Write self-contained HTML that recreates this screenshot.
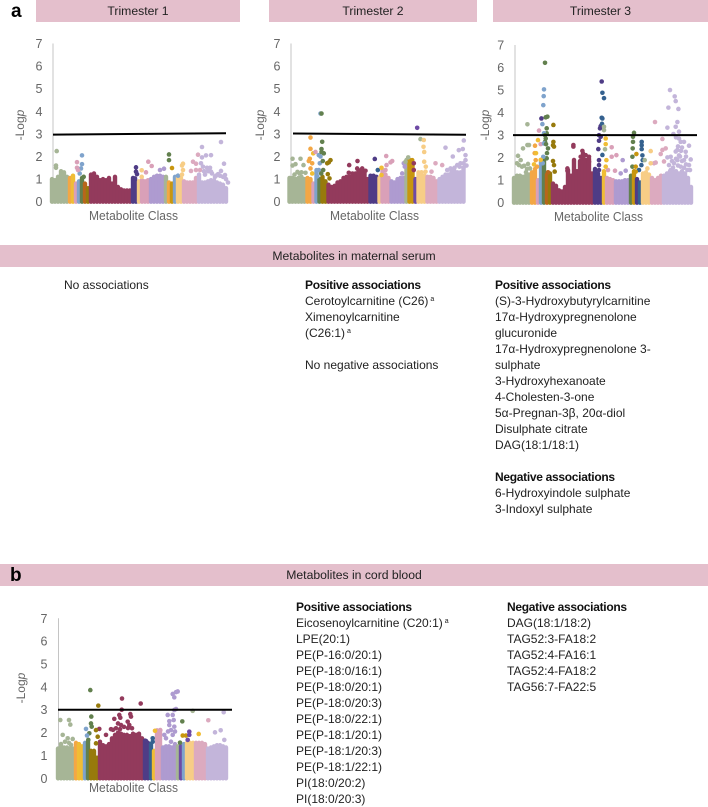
<!DOCTYPE html>
<html lang="en"><head><meta charset="utf-8"><title>Metabolite Manhattan plots</title>
<style>
html,body{margin:0;padding:0;background:#fff}
#page{position:relative;width:708px;height:807px;overflow:hidden;font-family:"Liberation Sans",sans-serif;color:#1a1a1a}
.bar{position:absolute;background:#e4bfcc;text-align:center;font-size:12.2px;line-height:22px;color:#222}
.t{position:absolute;font-size:12px;line-height:16px;white-space:nowrap;color:#222}
.t b{color:#111;letter-spacing:-.3px}
.t sup{font-size:7px;line-height:0;vertical-align:4px;margin-left:2px}
.big{position:absolute;font-weight:bold;font-size:19px;line-height:20px;color:#000}
svg{position:absolute;left:0;top:0}
</style></head><body>
<div id="page">
<div class="bar" style="left:36px;top:0;width:204px;height:22px">Trimester 1</div>
<div class="bar" style="left:269px;top:0;width:208px;height:22px">Trimester 2</div>
<div class="bar" style="left:493px;top:0;width:215px;height:22px">Trimester 3</div>
<div class="bar" style="left:0;top:245px;width:708px;height:22px">Metabolites in maternal serum</div>
<div class="bar" style="left:0;top:564px;width:708px;height:22px">Metabolites in cord blood</div>
<div class="big" style="left:11px;top:2px">a</div>
<div class="big" style="left:10px;top:566px">b</div>
<svg id="chart" width="708" height="807"></svg>

<div class="t" style="left:64px;top:277px">No associations</div>
<div class="t" style="left:305px;top:277px"><b>Positive associations</b><br>Cerotoylcarnitine (C26)<sup>a</sup><br>Ximenoylcarnitine<br>(C26:1)<sup>a</sup><br><br>No negative associations</div>
<div class="t" style="left:495px;top:277px"><b>Positive associations</b><br>(S)-3-Hydroxybutyrylcarnitine<br>17α-Hydroxypregnenolone<br>glucuronide<br>17α-Hydroxypregnenolone 3-<br>sulphate<br>3-Hydroxyhexanoate<br>4-Cholesten-3-one<br>5α-Pregnan-3β, 20α-diol<br>Disulphate citrate<br>DAG(18:1/18:1)<br><br><b>Negative associations</b><br>6-Hydroxyindole sulphate<br>3-Indoxyl sulphate</div>
<div class="t" style="left:296px;top:599px"><b>Positive associations</b><br>Eicosenoylcarnitine (C20:1)<sup>a</sup><br>LPE(20:1)<br>PE(P-16:0/20:1)<br>PE(P-18:0/16:1)<br>PE(P-18:0/20:1)<br>PE(P-18:0/20:3)<br>PE(P-18:0/22:1)<br>PE(P-18:1/20:1)<br>PE(P-18:1/20:3)<br>PE(P-18:1/22:1)<br>PI(18:0/20:2)<br>PI(18:0/20:3)</div>
<div class="t" style="left:507px;top:599px"><b>Negative associations</b><br>DAG(18:1/18:2)<br>TAG52:3-FA18:2<br>TAG52:4-FA16:1<br>TAG52:4-FA18:2<br>TAG56:7-FA22:5</div>
</div>
<script>
const yTicks = [0,1,2,3,4,5,6,7];
const threshold = 3;
const classColors = ['#a6b596','#f3a745','#f0bd35','#d9a0b8','#7fa3cc','#62804e','#b8651b','#977a0c','#933a5c','#4f3c86','#35618f','#f7cd86','#dcaabf','#ae9bd0','#c3b5da','#c8960f','#6e4aa5'];

const t1ClassOrder = [0,1,2,3,4,5,6,7,8,9,11,3,13,0,1,15,4,11,12,14];
const t1ClassBins = [6,1,1,1,1,1,1,1,14,2,1,3,5,1,1,1,1,2,5,10];
const t1Heights = [1.0,.95,1.1,1.35,1.3,1.1,1.05,1.15,.8,.9,1.05,.8,.6,1.2,1.25,1.1,.95,1.0,.95,1.05,.8,1.1,.65,.55,.5,.5,.5,1.05,.9,.9,.95,.9,.95,1.0,1.1,1.15,1.15,1.1,1.1,.85,.8,1.1,1.1,1.05,.9,.85,.85,.85,1.05,1.2,.85,.85,.9,.95,.95,.85,.8,.75,.6];
const t1Points = [[0,4.7,2.24],[0,4,1.6],[0,4,1.5],[4,30,2.05],[4,30,1.66],[4,29,1.47],[4,27.7,1.25],[3,25,1.75],[3,25,1.5],[3,26,1.4],[5,31.7,1.1],[9,84,1.52],[9,84,1.33],[9,85,1.22],[9,83,1.03],[11,89.7,1.39],[11,89.7,1.1],[3,94,1.3],[3,96.3,1.77],[3,99.7,1.58],[13,108,1.4],[13,112,1.46],[13,104,1.0],[5,117,2.09],[5,117,1.84],[15,120,1.49],[4,126,1.15],[11,131,1.68],[11,130,1.6],[11,131,1.4],[11,130,1.2],[12,139,1.36],[12,141,1.77],[12,144,1.68],[12,146,2.08],[12,144,1.4],[12,148,1.4],[14,150,2.42],[14,150,1.96],[14,154,2.05],[14,159,2.06],[14,169,2.64],[14,172,1.68],[14,169,1.36],[14,149,1.7],[14,151,1.55],[14,157,1.43],[14,156,1.35],[14,158,1.35],[14,159,1.33],[14,166,1.22],[14,173,1.18],[14,153,1.2],[14,163,1.1],[14,155,1.5],[14,158,1.5],[14,160,1.25],[14,168,1.15],[14,171,1.1],[14,152,1.35],[14,164,1.15],[14,174,1.0],[14,176,.85]];

const t2ClassOrder = [0,1,3,4,5,7,8,9,11,3,13,0,15,16,11,12,14];
const t2ClassBins = [6,2,1,1,1,2,14,3,1,3,5,1,2,1,3,4,9];
const t2Heights = [1.05,1.05,1.0,1.05,1.1,1.0,1.05,1.0,.8,1.4,1.0,1.1,.9,.75,.65,.7,.85,.9,1.05,1.1,1.1,1.25,1.25,1.4,1.35,1.25,1.0,1.15,1.15,1.1,1.05,1.4,1.2,1.05,.9,.85,1.0,1.05,1.05,1.85,1.85,1.7,1.0,1.3,1.2,1.15,1.1,1.1,1.05,.9,1.0,1.1,1.2,1.2,1.35,1.35,1.3,1.3,1.5];
const t2Points = [[4,31,3.9],[5,32,3.9],[16,127.7,3.27],[0,131,2.77],[11,134.3,2.73],[11,134,2.43],[11,134.7,2.2],[11,134.7,1.77],[11,136.3,1.55],[11,136,1.33],[11,132,1.3],[1,21,2.84],[1,21,2.34],[1,20.3,1.9],[1,19.3,1.8],[1,22.7,1.7],[1,21,1.47],[2,22.7,1.25],[2,23.7,2.14],[3,26,2.2],[4,29.3,2.06],[4,31,2],[4,30.3,1.7],[4,29.3,1.4],[4,27.7,1.12],[5,32.7,2.65],[5,32,2.33],[5,32,2.2],[5,34.3,2.14],[5,33.3,1.8],[5,33.7,1.4],[5,31.7,1.25],[7,41,1.84],[7,39.3,1.74],[7,37.7,1.7],[7,38.3,1.22],[7,40,1.03],[8,59.7,1.62],[8,68,1.8],[8,59.3,1.28],[8,67.7,1.47],[8,72.7,1.47],[8,76,1.37],[9,85.3,1.89],[10,88.3,1.4],[2,92,1.5],[2,92,1.18],[3,96.7,2.02],[3,102.7,1.8],[3,101,1.74],[3,97,1.62],[3,96,1.4],[13,112.7,1.25],[13,114.3,1.7],[13,115.3,1.55],[0,118.7,1.96],[0,116,1.77],[15,122.7,1.84],[8,124.3,1.7],[8,124.3,1.4],[12,146,1.7],[12,152.7,1.62],[12,142,1.33],[14,156,2.39],[14,163.3,2],[14,169.3,2.28],[14,174.3,2.71],[14,173.3,2.33],[14,176,2.06],[14,176,1.84],[14,171,1.7],[14,167.7,1.62],[14,161,1.47],[14,157.7,1.4],[0,3,1.6],[0,6,1.66],[0,11,1.9],[0,3,1.9],[0,14,1.62],[0,12,1.3],[0,5,1.2],[0,10,1.25],[14,165,1.5],[14,170,1.55],[14,174,1.7],[14,177,1.6],[14,163,1.4],[14,174,1.5],[0,8,1.32],[0,16,1.28]];

const t3ClassOrder = [0,1,3,4,5,6,7,8,9,2,3,13,5,15,9,10,11,12,14];
const t3ClassBins = [6,2,1,1,1,1,1,14,3,1,3,5,1,1,1,1,3,4,10];
const t3Heights = [1.1,1.2,1.2,1.15,1.2,1.25,1.35,1.5,1.0,1.9,2.0,1.25,1.3,.85,.75,.55,.5,.7,1.45,1.2,1.9,1.4,1.85,2.2,1.9,1.95,1.3,1.5,1.3,1.1,1.4,1.1,1.05,1.0,.95,.95,.95,1.0,1.0,1.2,1.4,1.05,.9,1.3,1.35,1.25,1.1,1.0,1.1,1.2,1.2,1.3,1.4,1.4,1.4,1.3,1.4,1.3,1.1,.7];
const t3Points = [[0,13.4,3.48],[0,4,2.08],[0,9,2.41],[0,13.4,2.56],[0,15,2.56],[0,6.7,1.89],[0,5,1.67],[0,10,1.64],[0,14,1.72],[0,16,1.52],[5,31,6.21],[4,30,5.03],[4,29.7,4.73],[4,29.3,4.33],[9,87.7,5.38],[10,88.4,4.88],[10,90,4.64],[10,87.7,3.77],[10,88.4,3.74],[9,86.7,3.4],[10,88,3.5],[9,86,3.3],[9,85,3.0],[9,86.7,2.93],[9,85,2.75],[9,84.3,2.38],[10,88.4,2.12],[9,85,1.89],[9,85,1.67],[9,85,1.45],[14,156,5],[14,160.7,4.72],[14,161.7,4.51],[14,154.4,4.22],[14,164.4,4.16],[14,163.4,3.58],[14,153.4,3.33],[14,161.7,3.37],[14,165,3.15],[14,159.4,3.05],[14,165,2.85],[14,166.7,2.7],[14,170,2.7],[14,163.4,2.34],[14,161.7,2.27],[14,175,2.53],[14,171.7,2.26],[14,176.7,1.92],[14,170,1.89],[14,163.4,1.89],[14,156.7,2.04],[14,153.4,2.01],[14,173.4,1.45],[14,175,1.67],[14,166.7,1.6],[14,160,1.75],[14,155,1.67],[14,156.7,1.45],[14,167,2.3],[14,165,2.1],[14,162,2.9],[14,164,2.5],[14,168,2.45],[14,166,2.05],[14,172,2.05],[14,168,1.85],[14,162,1.95],[14,158,1.85],[14,172,1.7],[14,164,1.65],[14,159,1.55],[14,170,1.55],[14,176,1.45],[12,141,3.58],[12,148.4,2.83],[12,151.7,2.41],[12,148.4,2.34],[12,146.7,2.16],[12,150,1.83],[12,140,1.75],[12,141.7,1.78],[11,136.7,2.29],[11,136.7,1.75],[11,133.4,1.52],[5,120,3.1],[5,119,2.93],[5,119,2.7],[5,118.7,2.41],[5,118.4,2.04],[5,118.4,1.6],[10,127.7,2.7],[10,127.7,2.55],[10,127.7,2.38],[10,128.4,2.1],[10,128.7,1.89],[10,127.4,1.67],[10,125,1.45],[15,122.4,2.16],[15,121.7,1.6],[15,121.7,1.38],[0,130.7,1.89],[3,97.7,2.46],[3,97.7,2.04],[3,102.4,2.11],[3,101,1.42],[3,94,1.45],[13,108.7,1.89],[13,111.7,1.42],[13,106.7,1.3],[2,91.7,2.85],[2,91.7,2.6],[0,90,3.37],[0,90,3.22],[0,91,2.37],[2,92.4,1.89],[2,91.7,1.6],[8,59.4,2.56],[8,59.4,2.49],[8,68.4,2.3],[8,66.7,2.04],[8,71.7,2.11],[8,75,2.04],[8,70,1.82],[8,75,1.82],[8,53.4,1.52],[8,53.4,1.42],[5,31.7,3.79],[5,33.4,3.82],[5,32.7,3.3],[5,32.7,3.08],[5,31.7,2.85],[5,31,2.7],[5,34,2.41],[5,32.7,1.97],[3,25,3.2],[9,27.4,3.74],[3,26.7,2.6],[4,28.4,3.49],[4,30,3.08],[4,30,2.63],[4,29.3,2.04],[4,28.7,1.75],[7,39.4,3.45],[7,39.4,2.7],[7,40,2.49],[7,39,1.85],[7,40,1.67],[7,40.7,1.38],[1,21,2.53],[1,20.7,2.2],[2,24,2.78],[1,21.7,1.89],[2,26.7,1.9],[6,34,1.35],[5,31,3.0],[5,32,2.6],[5,33,2.2],[7,39,2.55],[2,22,2.2],[2,20,1.7],[1,23,1.6],[0,3,1.75],[0,8,1.6],[0,13,1.5],[0,12,1.35]];

const bClassOrder = [0,1,2,4,5,7,8,9,10,2,3,13,0,16,4,11,12,14];
const bClassBins = [6,1,2,1,1,3,15,2,1,1,2,5,1,1,1,3,4,7];
const bHeights = [1.3,1.4,1.35,1.35,1.3,1.3,1.55,1.5,1.4,1.55,1.6,1.2,1.2,.9,1.6,1.45,1.4,1.5,1.75,1.9,2.0,1.95,1.9,1.9,1.85,1.95,1.9,1.95,1.75,1.65,1.55,1.5,1.2,2.1,2.1,1.35,1.4,1.4,1.35,1.5,1.4,1.4,1.5,1.55,1.55,1.55,1.55,1.55,1.55,1.5,1.3,1.35,1.4,1.45,1.45,1.4,1.35];
const bPoints = [[5,32.3,3.86],[7,40.3,3.18],[8,64,3.49],[8,82.7,3.27],[8,63.7,3],[8,61.3,2.77],[8,62.3,2.65],[8,56.3,2.6],[8,72.3,2.81],[8,73,2.7],[8,69.7,2.48],[8,71.3,2.33],[8,74,2.19],[8,63,2.33],[8,58,2.19],[8,55,2.12],[8,48,1.9],[8,41.3,2.16],[8,60,2.4],[8,66,2.25],[8,70,2.2],[8,62,2.15],[8,53,2.15],[0,2.3,2.55],[0,11,2.55],[0,12.3,2.35],[0,4.7,1.9],[0,9.7,1.75],[0,14.7,1.72],[0,13,1.46],[0,7,1.6],[0,3,1.5],[0,11,1.55],[13,119.7,3.8],[13,118,3.77],[13,114.7,3.69],[13,116.3,3.54],[13,118,3.03],[13,116.3,2.99],[13,114.7,2.77],[13,109.7,2.77],[13,115.7,2.55],[13,111.3,2.5],[13,116.3,2.26],[13,113,2.11],[13,111.3,2.33],[13,106.3,1.9],[13,114.7,1.9],[13,113,1.6],[13,110,2.05],[13,108,1.75],[13,117,2.05],[0,134.7,2.95],[5,124.3,2.49],[5,122,1.56],[12,150.3,2.54],[14,165.7,2.89],[14,162.7,2.1],[14,157,2.01],[14,166.3,1.68],[2,140.7,1.94],[2,97,2.08],[15,124.7,1.87],[15,128,1.87],[16,131.3,2.04],[16,131.3,1.9],[16,129.7,1.68],[5,33.3,2.7],[5,33,2.4],[5,33.7,2.26],[5,31.3,1.97],[5,30.3,1.68],[4,28,2.16],[4,29,1.87],[7,38,2.11],[7,39.7,1.82],[7,38,1.53],[10,94.7,1.75],[10,94.7,1.6],[9,88,1.63],[3,102.3,2.11],[3,101.3,1.82]];

const NS = 'http://www.w3.org/2000/svg';
const svg = document.getElementById('chart');

function el(tag, attrs, parent) {
  const n = document.createElementNS(NS, tag);
  for (const k in attrs) n.setAttribute(k, attrs[k]);
  parent.appendChild(n);
  return n;
}

function drawPanel(cfg, classOrder, classBins, heights, points) {
  const xScale = r => cfg.left + r * cfg.pxPerRank;
  const yScale = v => cfg.y0 + (cfg.y7 - cfg.y0) * v / 7;
  const g = el('g', {}, svg);
  
  

  const axis = el('line', {x1: cfg.axisX, x2: cfg.axisX, y1: yScale(7), y2: yScale(0) + 2, stroke: '#c4c4c4', 'stroke-width': 1}, g);
  
  

  yTicks.forEach(t => {
    const lab = el('text', {x: cfg.tickX, y: yScale(t) + 4.5, 'text-anchor': 'middle', 'font-size': 12.5, fill: '#666'}, g);
    lab.textContent = t;
    
    
  });

  const yTitle = el('text', {transform: 'translate(' + cfg.titleX + ',' + cfg.titleY + ') rotate(-90)', 'text-anchor': 'middle', 'font-size': 12, fill: '#666'}, g);
  
  
  yTitle.textContent = '-Log';
  const pSpan = el('tspan', {'font-style': 'italic'}, yTitle);
  pSpan.textContent = 'p';

  const xTitle = el('text', {x: cfg.xTitleX, y: cfg.xTitleY, 'text-anchor': 'middle', 'font-size': 12.5, fill: '#666', textLength: 89, lengthAdjust: 'spacingAndGlyphs'}, g);
  xTitle.textContent = 'Metabolite Class';
  
  

  let bin = 0;
  classOrder.forEach((cls, c) => {
    for (let i = 0; i < classBins[c]; i++, bin++) {
      const x = xScale(bin * 3);
      const col = el('line', {x1: x, x2: x, y1: yScale(0), y2: yScale(heights[bin]), stroke: classColors[cls], 'stroke-width': 4.4, 'stroke-linecap': 'round'}, g);
      
      
    }
  });

  points.forEach(p => {
    const dot = el('circle', {cx: xScale(p[1]), cy: yScale(p[2]), r: 2.3, fill: classColors[p[0]]}, g);
    
    
  });

  const th = el('line', {x1: cfg.thX1, x2: cfg.thX2, y1: yScale(threshold) + cfg.thTiltL, y2: yScale(threshold) + cfg.thTiltR, stroke: '#000', 'stroke-width': 2}, g);
  
  
}

drawPanel({name: 'trimester-1-plot', left: 52, pxPerRank: 1, y0: 201.7, y7: 43.5, axisX: 53, tickX: 39, titleX: 24, titleY: 125, xTitleX: 133.5, xTitleY: 220, thX1: 53, thX2: 226, thTiltL: .7, thTiltR: -.6}, t1ClassOrder, t1ClassBins, t1Heights, t1Points);
drawPanel({name: 'trimester-2-plot', left: 289.5, pxPerRank: 1, y0: 201.7, y7: 43.5, axisX: 291, tickX: 277, titleX: 264, titleY: 125, xTitleX: 374.5, xTitleY: 220, thX1: 293, thX2: 466, thTiltL: -.4, thTiltR: .9}, t2ClassOrder, t2ClassBins, t2Heights, t2Points);
drawPanel({name: 'trimester-3-plot', left: 514, pxPerRank: 1, y0: 202.7, y7: 45, axisX: 515, tickX: 500.7, titleX: 489, titleY: 125, xTitleX: 598.5, xTitleY: 221, thX1: 513, thX2: 697, thTiltL: 0, thTiltR: 0}, t3ClassOrder, t3ClassBins, t3Heights, t3Points);
drawPanel({name: 'cord-blood-plot', left: 58, pxPerRank: 1, y0: 778.3, y7: 618.3, axisX: 58.5, tickX: 44, titleX: 25, titleY: 688, xTitleX: 133.5, xTitleY: 792, thX1: 58, thX2: 232, thTiltL: 0, thTiltR: 0}, bClassOrder, bClassBins, bHeights, bPoints);
</script>
</body></html>
